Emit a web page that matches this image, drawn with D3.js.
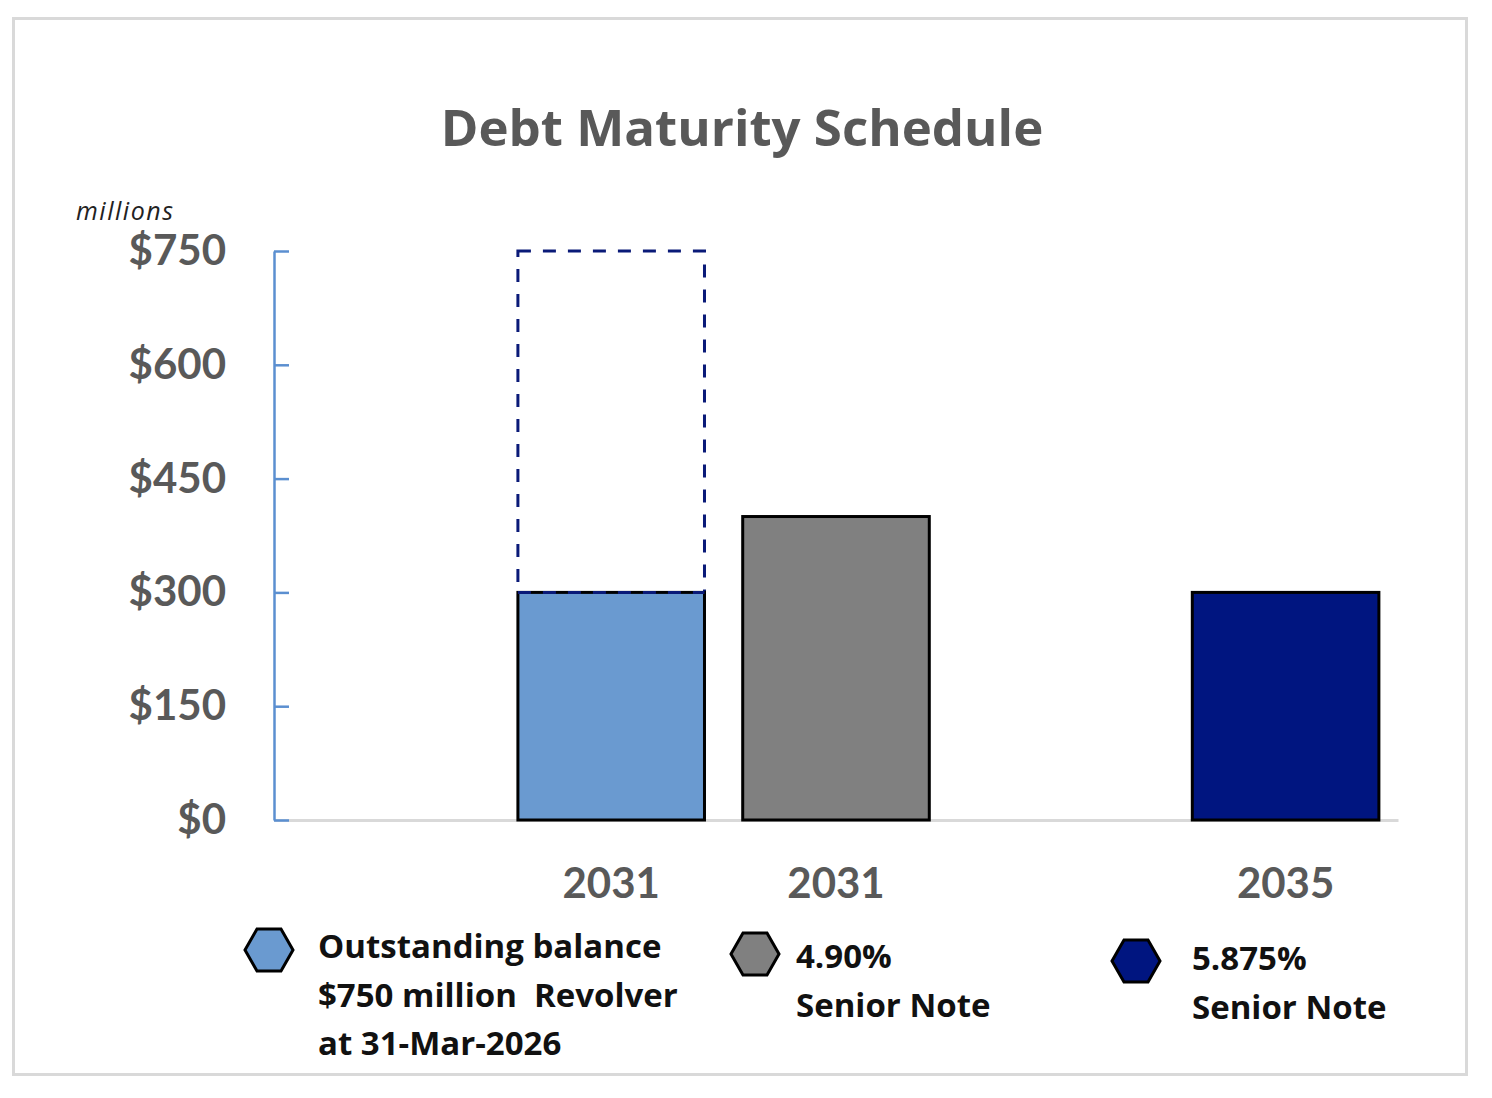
<!DOCTYPE html>
<html>
<head>
<meta charset="utf-8">
<script src="https://cdn.jsdelivr.net/npm/d3@7"></script>
<style>
  html, body { margin: 0; padding: 0; background: #fff; overflow: hidden; }
  svg { display: block; }
  .tick text { font-family: Lato, "Open Sans", sans-serif; font-weight: 700; fill: #595959; }
  .legend text { font-family: "Open Sans", sans-serif; font-weight: 700; fill: #111; }
</style>
</head>
<body>
<div id="chart"></div>
<script>
// slots along the x axis (two empty slots keep the Excel spacing)
const slots = ["s0", "s1", "s2", "s3", "s4"];
const slotLabels = ["", "2031", "2031", "", "2035"];
const values = [0, 300, 400, 0, 300];
const barColors = [null, "#6a9ad0", "#808080", null, "#001580"];
const revolverCapacity = 750;   // dashed outline on slot s1
const yTicks = [0, 150, 300, 450, 600, 750];

const legendLines = [
  ["Outstanding balance", "$750 million  Revolver", "at 31-Mar-2026"],
  ["4.90%", "Senior Note"],
  ["5.875%", "Senior Note"]
];
const legendColors = ["#6a9ad0", "#808080", "#001580"];

const width = 1492, height = 1098;
const margin = { left: 274, right: 94, top: 251, bottom: 278 };
const innerWidth = width - margin.left - margin.right;
const innerHeight = height - margin.top - margin.bottom;

const svg = d3.select("#chart")
  .append("svg")
  .attr("width", width)
  .attr("height", height)
  .attr("viewBox", `0 0 ${width} ${height}`);

// outer frame
svg.append("rect")
  .attr("x", 13.5).attr("y", 18.5)
  .attr("width", 1453).attr("height", 1056)
  .attr("fill", "none")
  .attr("stroke", "#d9d9d9")
  .attr("stroke-width", 3);

svg.append("text")
  .attr("x", 742)
  .attr("y", 146)
  .attr("text-anchor", "middle")
  .attr("font-family", "'Open Sans', sans-serif")
  .attr("font-weight", 700)
  .attr("font-size", 51)
  .attr("fill", "#595959")
  .text("Debt Maturity Schedule");

svg.append("text")
  .attr("x", 76)
  .attr("y", 220)
  .attr("font-family", "'Open Sans', sans-serif")
  .attr("font-style", "italic")
  .attr("font-size", 25)
  .attr("textLength", 97)
  .attr("fill", "#222")
  .text("millions");

const innerChart = svg.append("g")
  .attr("transform", `translate(${margin.left},${margin.top})`);

const xScale = d3.scaleBand()
  .domain(slots)
  .range([0, innerWidth])
  .paddingInner(0.17)
  .paddingOuter(0.085);

const yScale = d3.scaleLinear()
  .domain([0, 750])
  .range([innerHeight, 0]);

// x axis baseline + year labels
const bottomAxisG = innerChart.append("g")
  .attr("transform", `translate(0,${innerHeight})`)
  .call(d3.axisBottom(xScale)
    .tickSize(0)
    .tickPadding(48)
    .tickFormat((d, i) => slotLabels[i]));
bottomAxisG.select(".domain").attr("stroke", "#d9d9d9").attr("stroke-width", 3);
bottomAxisG.selectAll(".tick text").attr("font-size", 42);

// y axis: ticks point into the plot, labels sit well to the left
const leftAxisG = innerChart.append("g")
  .call(d3.axisLeft(yScale)
    .tickValues(yTicks)
    .tickSizeInner(-15)
    .tickSizeOuter(0)
    .tickPadding(48)
    .tickFormat(d => "$" + d));
leftAxisG.select(".domain").attr("stroke", "#5b8fd0").attr("stroke-width", 2.5);
leftAxisG.selectAll(".tick line").attr("stroke", "#5b8fd0").attr("stroke-width", 2.5);
leftAxisG.selectAll(".tick text").attr("font-size", 42);

// dashed revolver capacity outline
innerChart.append("rect")
  .attr("x", xScale("s1"))
  .attr("y", yScale(revolverCapacity))
  .attr("width", xScale.bandwidth())
  .attr("height", yScale(values[1]) - yScale(revolverCapacity))
  .attr("fill", "none")
  .attr("stroke", "#0a1a78")
  .attr("stroke-width", 3)
  .attr("stroke-dasharray", "13 12");

const barData = slots.map((s, i) => ({ s, v: values[i], c: barColors[i] }))
  .filter(d => d.v > 0);

innerChart.selectAll("rect.bar")
  .data(barData)
  .join("rect")
  .attr("class", "bar")
  .attr("x", d => xScale(d.s))
  .attr("y", d => yScale(d.v))
  .attr("width", xScale.bandwidth())
  .attr("height", d => innerHeight - yScale(d.v))
  .attr("fill", d => d.c)
  .attr("stroke", "#000")
  .attr("stroke-width", 3);

// dashed top edge drawn over the blue bar
innerChart.append("line")
  .attr("x1", xScale("s1"))
  .attr("x2", xScale("s1") + xScale.bandwidth())
  .attr("y1", yScale(values[1]))
  .attr("y2", yScale(values[1]))
  .attr("stroke", "#0a1a78")
  .attr("stroke-width", 3)
  .attr("stroke-dasharray", "13 12");

// legend
const legendPos = [
  { hx: 269, hy: 950, tx: 318, ty: 958 },
  { hx: 755, hy: 954, tx: 796, ty: 968 },
  { hx: 1136, hy: 961, tx: 1192, ty: 970 }
];

function hexPath(w, h) {
  return d3.line()([[-w / 2, 0], [-w / 4, -h / 2], [w / 4, -h / 2], [w / 2, 0], [w / 4, h / 2], [-w / 4, h / 2]]) + "Z";
}

const legend = svg.append("g").attr("class", "legend");
legendLines.forEach((lines, i) => {
  const p = legendPos[i];
  legend.append("path")
    .attr("d", hexPath(48, 42))
    .attr("transform", `translate(${p.hx},${p.hy})`)
    .attr("fill", legendColors[i])
    .attr("stroke", "#000")
    .attr("stroke-width", 3);
  lines.forEach((line, j) => {
    legend.append("text")
      .attr("x", p.tx)
      .attr("y", p.ty + j * 48.5)
      .attr("font-size", 33)
      .attr("xml:space", "preserve")
      .text(line);
  });
});
</script>
</body>
</html>
